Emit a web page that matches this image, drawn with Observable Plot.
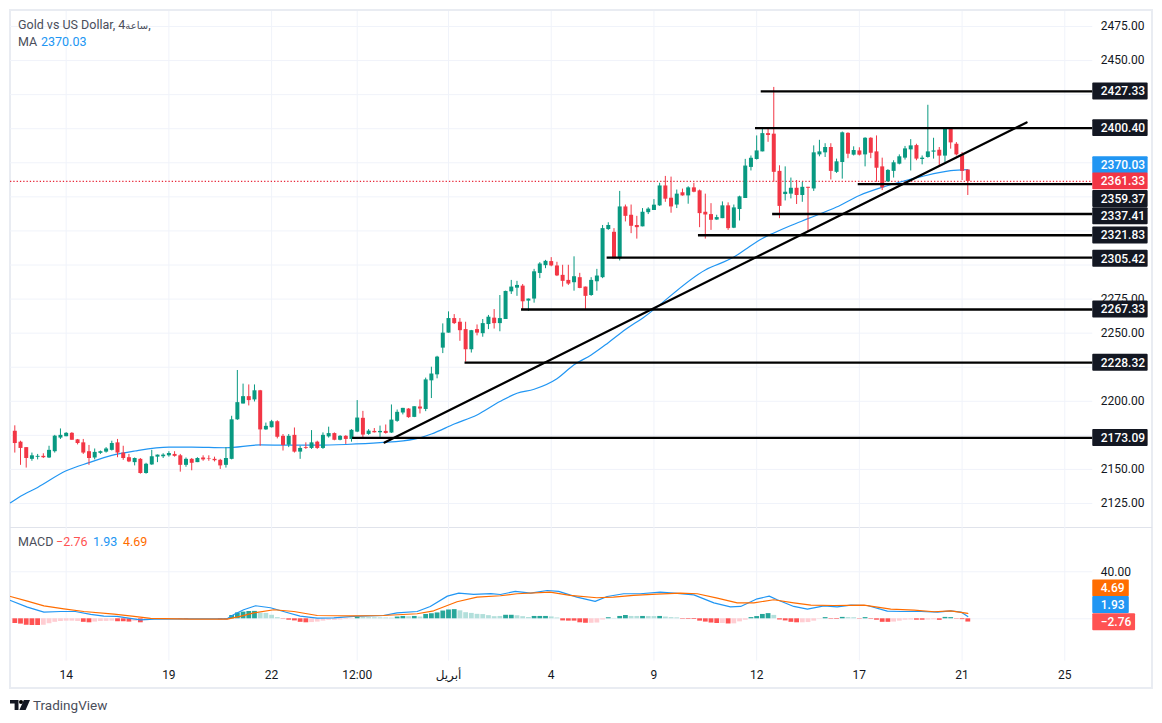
<!DOCTYPE html>
<html>
<head>
<meta charset="utf-8">
<script src="https://cdn.jsdelivr.net/npm/d3@7"></script>
<script src="https://cdn.jsdelivr.net/npm/@observablehq/plot@0.6"></script>
<style>
  html, body { margin: 0; background: #fff; overflow: hidden; }
  body { width: 1162px; height: 723px; position: relative; font-family: Roboto, "DejaVu Sans", sans-serif; color: #131722; }
  #frame { position: absolute; left: 9px; top: 9px; width: 1140px; height: 676px; border: 2px solid #e9ecf2; }
  #chart1, #chart2 { position: absolute; left: 0; top: 0; }
  .legend { position: absolute; font-size: 12.5px; white-space: pre; color: #4a4e5a; }
  #logo { position: absolute; left: 10px; top: 699px; }
  #brand { position: absolute; left: 33px; top: 697px; font-size: 13.5px; color: #4a4e5a; }
</style>
</head>
<body>
<div id="frame"></div>
<div id="chart1"></div>
<div id="chart2"></div>
<div class="legend" style="left:18px;top:17px">Gold vs US Dollar, 4<span style="font-size:10px">ساعة</span>,</div>
<div class="legend" style="left:18px;top:34px">MA</div>
<div class="legend" style="left:41px;top:34px;color:#2196f3">2370.03</div>
<div class="legend" style="left:18px;top:534px">MACD</div>
<div class="legend" style="left:56px;top:534px;color:#ff5252">−2.76</div>
<div class="legend" style="left:93px;top:534px;color:#2196f3">1.93</div>
<div class="legend" style="left:123px;top:534px;color:#ff6d00">4.69</div>
<svg id="logo" width="20" height="12" viewBox="0 0 20 12"><path fill="#131722" d="M0 1h8.5v10H4.6V4.6H0z"/><circle cx="11" cy="3" r="2"/><path fill="#131722" d="M13.8 1H20l-4.4 10H9.4z"/></svg>
<div id="brand">TradingView</div>
<script>
const open = [
  2178,2170,2166,2157.4,2158.9,2159.6,2158.4,2163,2173,2174,
  2176.5,2171.7,2169.5,2163,2158.4,2161.8,2162.7,2164,2169.5,2162,
  2158.6,2155,2157.4,2147,2153.3,2159,2159.3,2160,2161,2160,
  2153,2157.4,2155,2158.4,2157.8,2157.4,2156.7,2153,2157.4,2186.4,
  2198,2203.4,2201,2207.7,2179,2180.6,2185,2174.3,2167.8,2175,
  2162.7,2166,2165.4,2170,2165.4,2173.9,2176.3,2171.4,2174.3,2172,
  2177.4,2187.5,2175.7,2177.9,2176.9,2177.9,2176.7,2185.3,2191.4,2194.3,
  2188.2,2195.8,2194,2215,2219.4,2239,2250,2260.7,2258,2252.6,
  2237.8,2252.6,2249.6,2256.3,2261,2257,2260,2280.3,2283,2284.5,
  2273.5,2275,2293.8,2299.5,2302.5,2299.3,2292.4,2288.7,2287,2290.7,
  2283.8,2277.6,2287.7,2290.7,2326,2324,2304.5,2342.6,2336.5,2329,
  2328,2338.4,2340,2343.4,2358,2349,2344,2353,2350.7,2356.6,
  2354.4,2338.7,2337,2333,2334,2343.4,2327,2340.7,2348.8,2371.6,
  2377.4,2383,2396.4,2396,2368.7,2351.7,2352,2356.3,2351,2357,
  2355.8,2380.8,2382.3,2386.2,2368,2375.2,2396.6,2380.6,2383.7,2380.8,
  2393,2383,2372,2361,2368.7,2374,2378.4,2384.5,2387.6,2377.4,
  2378.9,2382.8,2384.2,2379.9,2400,2388.6,2380.8,2369.7
]
const close = [
  2169,2165.4,2158,2160,2159.6,2158.6,2164,2174.4,2175,2176.5,
  2171.4,2169,2162,2158,2162.5,2163,2165,2169,2162,2158,
  2155.5,2158,2147,2153.8,2159.3,2160.5,2160.5,2161.7,2159.6,2153,
  2157.4,2154.5,2158,2157,2157.4,2156.4,2152.6,2158,2186.4,2199,
  2203.4,2200.5,2207.7,2179,2181.6,2185,2173.6,2167.6,2174.3,2162.7,
  2165.4,2165.4,2169.5,2165.4,2175,2176.3,2171.4,2174.3,2172,2178.7,
  2187.7,2175.2,2178.1,2176.9,2177.9,2176.4,2186.2,2191.9,2194.8,2188,
  2196,2194.3,2215.7,2220,2232.4,2250,2260.7,2257,2251.8,2237.8,
  2251.8,2250,2257,2261.7,2257,2260.7,2280.6,2283.8,2285,2273,
  2275,2295,2300.7,2302.7,2299.3,2292,2288,2286,2291.4,2282.8,
  2277,2288.7,2291.9,2326.7,2329,2304.5,2342.6,2335.7,2328.4,2327.4,
  2338.7,2341,2343.9,2358,2348.3,2342.6,2352,2350.7,2356.6,2353.4,
  2337.7,2336.7,2332.8,2334.8,2343.4,2326.7,2341.9,2350,2372.6,2378.3,
  2383.7,2396.4,2395,2368,2343,2353.4,2356.3,2351,2357,2356.3,
  2382.3,2383,2386.2,2368.7,2375.7,2397,2381.3,2384,2380.6,2393,
  2382,2371,2356.6,2369.4,2375,2379.4,2385.2,2387.4,2377.7,2378.4,
  2383,2383.7,2379.9,2399.5,2389.6,2380.8,2368.7,2361.33
]
const high = [
  2182,2170.7,2166,2162,2161,2161.5,2167,2175,2179.7,2177,
  2177,2172,2172,2167.6,2165,2163.5,2166,2170.7,2172,2167,
  2161,2158.4,2158,2154.5,2164,2160.6,2161.5,2163,2163,2161,
  2158.4,2158,2158.6,2160,2160,2159,2157.4,2166,2189,2222.6,
  2212.6,2212,2212,2208,2184,2186,2185.7,2175.6,2175.6,2180.4,
  2167,2169.5,2178.5,2170.7,2176.8,2181,2176.8,2174.8,2174.8,2179.2,
  2200.5,2192.6,2179.2,2180,2181.8,2182.6,2197.3,2193.6,2194.8,2194.6,
  2196,2201,2217,2225,2233,2256.8,2265.6,2263.6,2260.7,2258,
  2252,2256,2260,2263,2267.3,2277.6,2280.8,2288.7,2288,2285.7,
  2275,2296.8,2301.7,2303.4,2305.4,2302,2299.8,2299.8,2306,2293.9,
  2283.8,2290.7,2296.8,2329,2331,2326.7,2354,2344,2344,2335.7,
  2341.4,2342,2348,2360,2365,2364.5,2355,2355.7,2357.4,2360,
  2355,2352,2345,2336.5,2346.3,2345.6,2344,2350.5,2377.5,2380,
  2394.7,2399.5,2400,2430.3,2372.8,2372,2363.8,2362,2360.7,2357,
  2387.4,2391.5,2389,2389,2377.7,2397.6,2397,2386.7,2386,2393.4,
  2393.4,2394.7,2378.4,2370,2376.5,2380.8,2387,2392,2388.6,2380,
  2417.2,2393,2386.2,2399.5,2400.7,2389.8,2382.5,2369.7
]
const low = [
  2162,2153,2151,2156,2157,2158,2158,2162,2172,2174,
  2171.4,2168,2161,2153,2157,2161,2162,2163.5,2158.6,2156.7,
  2155,2152.6,2146.5,2146.5,2153,2155,2158,2159,2159,2148,
  2151.6,2149,2155,2156,2156,2155.5,2150,2151,2157,2186,
  2198,2196.6,2199.5,2167,2178.7,2180.4,2172.4,2163.5,2166,2162,
  2157.4,2164.7,2164.7,2164.7,2164.7,2173,2171,2171,2168.3,2170,
  2177,2172,2175,2176.7,2173.5,2175.9,2176.4,2184.6,2190,2187.5,
  2188,2190.7,2192.4,2202,2216.5,2235,2250,2256.3,2244,2228.7,
  2235.4,2248,2247,2252.6,2253,2251,2260,2278.4,2277,2267.3,
  2266,2272,2290,2297.3,2298.7,2291.5,2283.8,2285,2280.8,2282.6,
  2267.3,2277,2280.8,2290,2325.4,2304.5,2303,2331.6,2323,2319,
  2328,2337,2340,2343,2346,2338,2341.4,2350.5,2344.6,2353,
  2327.4,2319,2325.4,2332.8,2334,2325.4,2326.7,2332.3,2348.8,2369,
  2377,2383,2390,2360.7,2334,2347,2348.5,2344.4,2346,2324.3,
  2354,2379.4,2378.9,2362.4,2367.2,2363,2378,2380,2380,2372,
  2378,2360.7,2354.6,2360.7,2363.8,2373.5,2377,2369,2376.5,2373.5,
  2378.4,2377.7,2372,2375.2,2385,2380,2362,2351
]

// moving average, read at the bends of the line
const maBar = [-0.75,1,4,9,13,17,21,27,31,37,43,48,53,58,64,70,73,77,81,85,88,91,95,98,101,104,107,110,121,126,128,131,133,136,139,144,148,152,155,159,164,167]
const maVal = [2125.5,2130.3,2136.8,2149,2155,2160.3,2163.5,2166.4,2166.4,2165.9,2168,2167.8,2167.8,2168.3,2169.6,2172.2,2176,2183.3,2190,2199.8,2205.9,2208.8,2216.5,2226.8,2234,2243,2252.6,2261,2296.4,2305.8,2311.4,2319.5,2323.5,2329,2334,2342.5,2351,2357,2360.7,2365,2369.2,2370.03]

const macdBar = [-0.75,2.2,5.1,8,10.6,13.3,15.6,17.9,22,24.4,30.8,37.2,38.4,40.1,42.2,44.8,47.7,50,53,55.9,59.4,61.8,64.6,67,70.5,72.8,75.8,77.8,80.4,83.4,85.1,87.7,90.4,93.3,95.3,98.5,101.7,103.8,106.7,109.6,113.1,116.1,119,122.5,125.4,127.2,130.1,132.2,133.6,136.5,138.9,141.8,144.1,146.5,149.4,152.9,155.3,158.8,161.7,164,165.8,167]
const macdVal = [15.6,9.9,5.7,6.2,6.2,3.7,2.3,2,-0.85,-0.3,0,0,3.7,7.7,11.1,9.4,5.4,2.3,0.6,0.85,2,2.5,2.8,5.1,6.2,10.5,19.3,21.9,20.8,21.4,20.7,23.3,21.8,24.1,23.3,18.4,14.8,19,21.3,21.3,22.7,21.6,20.4,13.6,10.2,10.5,17,19.3,16.2,10.5,8.2,11,10.2,11.6,11.3,6.5,6.2,6.2,5.7,6.8,5.7,1.93]
const signalBar = [-0.75,2.2,5.1,8.6,12.1,17.4,20.9,23.8,30.8,37.2,39.5,41.9,45.4,48.9,53,59.4,64.6,70.5,73.4,77.5,81,85.1,88,93.8,97.3,102,104.9,108.4,112.5,116.6,119.6,123.1,126.6,129.5,133,136.5,139.5,143.5,148.8,153.5,157.6,161.1,164,167]
const signalVal = [19,15,11,8.5,6.2,4,2,0.3,-0.3,-0.3,2,5.1,7.7,6.2,2.8,2.5,2.8,4.3,6.8,14.5,18.4,19.6,21.3,22.7,19.9,17.9,18.4,19.9,21,21.8,21.3,17.6,13.6,13.6,16.2,13.6,11.6,11.3,11.6,8.2,7.4,6,6.8,4.69]
const hist = [
  -4,-4.5,-5.5,-5.7,-5.7,-5.5,-4.2,-3,-2.3,-2,
  -2,-2.3,-3,-3.4,-2.8,-2.3,-2.2,-2,-2.5,-2.5,
  -2.8,-2.2,-3.4,-1.6,-0.8,-0.4,-0.3,-0.2,-0.2,-0.4,
  -0.5,-0.3,-0.2,-0.2,-0.1,-0.1,-0.8,-0.8,2.8,5,
  5.7,6.2,6.3,4.8,4.6,3,1,-0.3,-1.2,-1.8,
  -3,-3.4,-3.2,-2.8,-2,-1.3,-1.3,-1,-0.6,-0.2,
  1.4,1.1,1,0.9,0.8,0.7,0.5,1.5,2,1.8,
  2,1.5,3.7,4.3,5,6.6,7.5,7.8,6.8,5.2,
  4.6,3.8,3.6,2.7,1.8,2,3,3,2.6,1.8,
  1.1,2,2,2,1.6,0.7,-1.8,-2,-2,-3.4,
  -3.8,-3.8,-3.6,-1,0.9,0.3,2,2.8,2,2,
  2,1.9,1.9,2,1.5,1,0.8,-0.4,-0.5,-0.6,
  -2,-2.8,-3.6,-4,-4,-4.4,-4.3,-2.6,-1.2,1,
  1.9,3.7,4.4,2.9,-1,-1.8,-3,-3.4,-3.4,-3.2,
  -2,-0.3,1,-0.4,-0.5,1.2,1,0.9,-0.3,1,
  -0.4,-1.2,-3,-3,-2.8,-2,-1.2,-1,-1.2,-1.2,
  -1,-0.8,-1.3,1.2,1,-0.3,-0.7,-2.76
]
const histStrong = [
  1,1,1,1,1,0,0,0,0,0, 0,0,1,1,0,0,0,0,1,1, 1,0,1,0,0,0,0,0,0,1,
  1,0,0,0,0,0,1,1,1,1, 1,1,1,0,0,0,0,1,1,1, 1,1,0,0,0,0,0,0,0,0,
  1,0,0,0,0,0,0,1,1,0, 1,0,1,1,1,1,1,1,0,0, 0,0,0,0,0,0,1,1,0,0,
  0,1,1,1,0,0,1,1,1,1, 1,0,0,0,1,0,1,1,0,0, 1,0,0,1,0,0,0,1,1,1,
  1,1,1,1,0,1,0,0,0,1, 1,1,1,0,1,1,1,1,0,0, 0,0,1,1,1,1,0,0,1,1,
  1,1,1,1,0,0,0,0,1,1, 0,0,1,1,1,1,1,1
]

// drawn levels, their right-hand tags and the bar where each one starts
const levelVal = [2427.33,2400.40,2359.37,2337.41,2321.83,2305.42,2267.33,2228.32,2173.09]
const levelTagAt = [2427.33,2400.40,2348.4,2335.8,2321.6,2304.6,2267.33,2228.32,2173.09]
const levelStart = [130.8,129.8,147.8,132.8,119.8,103.8,88.8,78.9,59.2]
const trendBar = [64.8,177.3]
const trendVal = [2169.8,2404.6]

const priceGrid = d3.range(2125,2476,25)
const priceTicks = [2475,2450,2275,2250,2200,2150,2125]
const lastPrice = 2361.33
const maLast = 2370.03
const maTagAt = 2373.2

const xTickBar = [9,27,45,60,76,94,112,130,148,166,184]
const xTickText = ["14","19","22","12:00","أبريل","4","9","12","17","21","25"]

const macdTags = [
  {at:25.9,text:"4.69",fill:"#ff6d00",end:195.3},
  {at:11.8,text:"1.93",fill:"#2196f3",end:195.3},
  {at:-2.9,text:"−2.76",fill:"#ff5252",end:196.4}
]

const up = "#089981", down = "#f23645", gridCol = "#f0f3fa"
const bars = d3.range(open.length)
const barCol = i => close[i] >= open[i] ? up : down
const xLeft = -0.75, xRight = 188.9, tagL = 188.9, tagR = 198.6
const xScale = {domain:[0,167], range:[14.3,967.3], axis:null}
const fontStyle = {background:"transparent", fontFamily:'Roboto,"DejaVu Sans",sans-serif', fontSize:"12px"}

let chart1 = Plot.plot({
  width: 1162, height: 527,
  marginLeft: 0, marginRight: 0, marginTop: 0, marginBottom: 0,
  style: fontStyle,
  x: xScale,
  y: {domain:[2125,2475], range:[503,26], axis:null},
  marks: [
    Plot.ruleX(xTickBar, {x: d => d, y1: () => 2486, y2: () => 2107.5, stroke: gridCol}),
    Plot.ruleY(priceGrid, {y: d => d, x1: () => xLeft, x2: () => xRight, stroke: gridCol}),
    Plot.ruleY([lastPrice], {y: d => d, x1: () => xLeft, x2: () => xRight, stroke: "#e8283a", strokeWidth: 1.3, strokeDasharray: "1.3,2"}),
    Plot.line(maVal, {x: (d,i) => maBar[i], y: d => d, stroke: "#2196f3", strokeWidth: 1.2, curve: "monotone-x"}),
    Plot.ruleX(bars, {x: i => i, y1: i => low[i], y2: i => high[i], stroke: barCol, strokeWidth: 1}),
    Plot.ruleX(bars, {x: i => i, y1: i => open[i], y2: i => close[i], stroke: barCol, strokeWidth: 4}),
    Plot.ruleY(levelVal, {y: d => d, x1: (d,i) => levelStart[i], x2: () => xRight, stroke: "#000", strokeWidth: 2.3}),
    Plot.line(trendVal, {x: (d,i) => trendBar[i], y: d => d, stroke: "#000", strokeWidth: 2.3}),
    Plot.text(priceTicks, {y: d => d, x: () => xRight, dx: 8, text: d => d.toFixed(2), textAnchor: "start", fill: "#131722"}),
    Plot.rect(levelTagAt, {x1: () => tagL, x2: () => tagR, y1: d => d - 6.2, y2: d => d + 6.2, fill: "#131722", rx: 1}),
    Plot.text(levelTagAt, {y: d => d, x: () => tagL, dx: 8, text: (d,i) => levelVal[i].toFixed(2), textAnchor: "start", fill: "#fff", fontWeight: 500}),
    Plot.rect([maTagAt], {x1: () => tagL, x2: () => tagR, y1: d => d - 6.2, y2: d => d + 6.2, fill: "#2196f3", rx: 1}),
    Plot.text([maTagAt], {y: d => d, x: () => tagL, dx: 8, text: () => maLast.toFixed(2), textAnchor: "start", fill: "#fff", fontWeight: 500}),
    Plot.rect([lastPrice], {x1: () => tagL, x2: () => tagR, y1: d => d - 6.2, y2: d => d + 6.2, fill: down, rx: 1}),
    Plot.text([lastPrice], {y: d => d, x: () => tagL, dx: 8, text: d => d.toFixed(2), textAnchor: "start", fill: "#fff", fontWeight: 500})
  ]
})

let chart2 = Plot.plot({
  width: 1162, height: 690,
  marginLeft: 0, marginRight: 0, marginTop: 0, marginBottom: 0,
  style: fontStyle,
  x: xScale,
  y: {domain:[0,40], range:[618.3,571.3], axis:null},
  marks: [
    Plot.ruleY([77.7], {y: d => d, x1: () => xLeft, x2: () => 199.4, stroke: "#e0e3eb"}),
    Plot.ruleX(xTickBar, {x: d => d, y1: () => 77.7, y2: () => -36, stroke: gridCol}),
    Plot.ruleY([0,40], {y: d => d, x1: () => xLeft, x2: () => xRight, stroke: gridCol}),
    Plot.ruleX(bars, {x: i => i, y1: () => 0, y2: i => hist[i], strokeWidth: 4.8,
      stroke: i => hist[i] >= 0 ? (histStrong[i] ? "#26a69a" : "#b2dfdb") : (histStrong[i] ? "#ff5252" : "#ffcdd2")}),
    Plot.line(macdVal, {x: (d,i) => macdBar[i], y: d => d, stroke: "#2196f3", strokeWidth: 1.2}),
    Plot.line(signalVal, {x: (d,i) => signalBar[i], y: d => d, stroke: "#ff6d00", strokeWidth: 1.2}),
    Plot.text([40], {y: d => d, x: () => xRight, dx: 8, text: d => d.toFixed(2), textAnchor: "start", fill: "#131722"}),
    Plot.rect(macdTags, {x1: () => tagL, x2: d => d.end, y1: d => d.at - 7.2, y2: d => d.at + 7.2, fill: d => d.fill, rx: 1}),
    Plot.text(macdTags, {y: d => d.at, x: () => tagL, dx: 8, text: d => d.text, textAnchor: "start", fill: "#fff", fontWeight: 500}),
    Plot.text(xTickBar, {x: d => d, frameAnchor: "bottom", dy: -12, text: (d,i) => xTickText[i], fill: "#131722"})
  ]
})

d3.select("#chart1").append(() => chart1)
d3.select("#chart2").append(() => chart2)
</script>
</body>
</html>
